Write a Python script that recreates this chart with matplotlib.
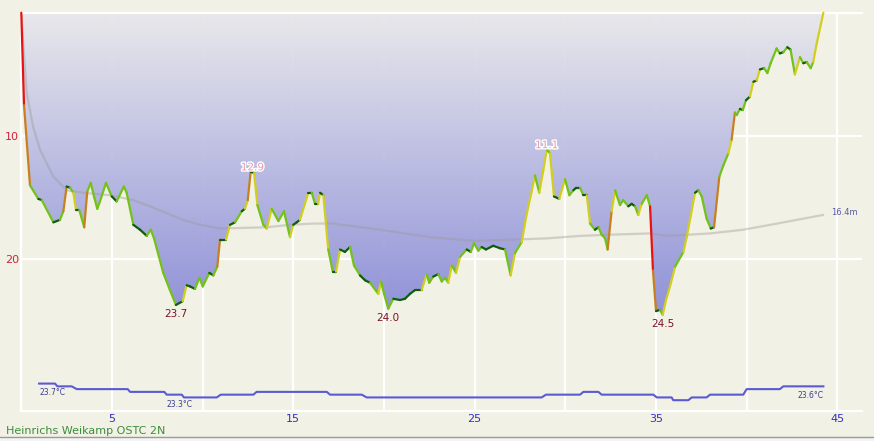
import numpy as np
import matplotlib.pyplot as plt
from matplotlib.collections import LineCollection
from matplotlib.patches import Polygon, Rectangle
from matplotlib.lines import Line2D
import matplotlib.patheffects as pe

# dive profile: time (min) and depth (m)
time_min = [0.00, 0.15, 0.48, 0.94, 1.13, 1.77, 2.13, 2.32, 2.50, 2.69,
            2.87, 3.02, 3.20, 3.47, 3.64, 3.83, 4.01, 4.19, 4.34, 4.67,
            4.99, 5.26, 5.66, 5.81, 6.18, 6.55, 6.92, 7.14, 7.32, 7.83,
            8.20, 8.53, 8.90, 9.12, 9.31, 9.58, 9.82, 10.01, 10.37, 10.59,
            10.81, 10.96, 11.29, 11.51, 11.79, 12.16, 12.34, 12.49, 12.65, 12.84,
            13.02, 13.35, 13.54, 13.81, 14.18, 14.49, 14.82, 15.00, 15.19, 15.37,
            15.83, 16.02, 16.20, 16.37, 16.48, 16.66, 16.93, 17.18, 17.36, 17.58,
            17.85, 18.13, 18.35, 18.68, 18.96, 19.23, 19.69, 19.84, 20.01, 20.24,
            20.52, 20.89, 21.16, 21.44, 21.71, 22.08, 22.36, 22.50, 22.72, 23.00,
            23.19, 23.37, 23.55, 23.74, 23.98, 24.20, 24.57, 24.79, 24.97, 25.21,
            25.39, 25.63, 26.03, 26.40, 26.68, 26.99, 27.23, 27.60, 27.88, 28.15,
            28.33, 28.57, 28.79, 28.98, 29.16, 29.38, 29.67, 29.99, 30.23, 30.45,
            30.60, 30.82, 31.00, 31.19, 31.37, 31.64, 31.83, 32.01, 32.20, 32.34,
            32.56, 32.75, 33.02, 33.20, 33.48, 33.67, 33.85, 34.03, 34.22, 34.50,
            34.68, 34.84, 35.01, 35.23, 35.38, 35.56, 35.78, 36.06, 36.52, 36.70,
            36.92, 37.16, 37.34, 37.53, 37.80, 38.03, 38.21, 38.50, 38.72, 39.00,
            39.18, 39.36, 39.46, 39.64, 39.79, 39.97, 40.19, 40.38, 40.56, 40.74,
            40.97, 41.15, 41.33, 41.66, 41.84, 42.03, 42.25, 42.43, 42.67, 42.95,
            43.13, 43.32, 43.54, 43.68, 43.87, 44.24]
depth_m = [0.0, 7.5, 14.0, 15.1, 15.2, 17.0, 16.8, 16.1, 14.1, 14.2,
           14.6, 16.0, 16.0, 17.4, 14.5, 13.8, 14.9, 15.9, 15.3, 13.8,
           14.9, 15.3, 14.1, 14.6, 17.2, 17.6, 18.1, 17.6, 18.3, 21.1,
           22.5, 23.7, 23.4, 22.1, 22.2, 22.4, 21.5, 22.2, 21.1, 21.3,
           20.6, 18.4, 18.4, 17.2, 17.0, 16.1, 15.9, 15.2, 12.9, 13.0,
           15.6, 17.2, 17.5, 15.9, 16.9, 16.1, 18.2, 17.2, 17.0, 16.8,
           14.6, 14.6, 15.5, 15.5, 14.6, 14.8, 19.2, 21.0, 21.0, 19.2,
           19.4, 19.0, 20.5, 21.3, 21.7, 21.9, 22.8, 21.8, 22.8, 24.0,
           23.2, 23.3, 23.2, 22.8, 22.5, 22.5, 21.2, 21.9, 21.4, 21.2,
           21.8, 21.5, 21.9, 20.5, 21.1, 19.8, 19.2, 19.4, 18.7, 19.3,
           19.0, 19.2, 18.9, 19.1, 19.2, 21.3, 19.5, 18.6, 16.3, 14.5,
           13.2, 14.6, 12.8, 11.1, 11.4, 14.9, 15.1, 13.5, 14.8, 14.4,
           14.2, 14.2, 14.8, 14.8, 17.1, 17.6, 17.4, 18.0, 18.3, 19.2,
           16.1, 14.4, 15.6, 15.2, 15.7, 15.5, 15.7, 16.4, 15.5, 14.8,
           15.7, 20.9, 24.2, 24.1, 24.5, 23.3, 22.2, 20.6, 19.4, 18.2,
           16.5, 14.6, 14.4, 14.9, 16.7, 17.5, 17.4, 13.3, 12.4, 11.4,
           10.3, 8.1, 8.3, 7.8, 7.9, 7.1, 6.8, 5.6, 5.5, 4.6,
           4.5, 4.9, 4.1, 2.9, 3.3, 3.2, 2.8, 3.0, 5.0, 3.6,
           4.1, 4.0, 4.5, 4.0, 2.5, 0.0]

# running mean depth
mean_time = [0.0, 0.15, 0.30, 0.48, 0.66, 1.03, 1.77, 2.50, 3.42, 4.89,
             6.18, 7.10, 8.92, 9.86, 10.96, 13.55, 14.82, 16.09, 17.19, 19.79,
             22.54, 24.91, 27.12, 28.99, 30.82, 32.47, 34.68, 35.62, 37.99, 39.81,
             41.69, 44.22]
mean_depth = [0.0, 3.4, 6.5, 7.9, 9.3, 11.1, 13.3, 14.4, 14.6, 14.8,
              15.2, 15.7, 16.8, 17.2, 17.5, 17.4, 17.2, 17.1, 17.1, 17.6,
              18.2, 18.5, 18.4, 18.3, 18.1, 18.0, 17.9, 18.1, 17.9, 17.6,
              17.1, 16.4]

# water temperature (deg C)
temp_time = [0.98, 1.86, 1.99, 2.78, 3.06, 5.87, 6.00, 7.89, 8.02, 8.85,
             8.97, 10.78, 11.00, 12.80, 12.98, 16.85, 17.03, 18.78, 19.05, 28.70,
             28.94, 30.82, 31.00, 31.83, 32.01, 34.86, 35.05, 35.87, 35.96, 36.79,
             36.98, 37.80, 37.99, 39.82, 40.01, 41.84, 42.03, 44.24]
temp_c = [23.7, 23.7, 23.6, 23.6, 23.5, 23.5, 23.4, 23.4, 23.3, 23.3,
          23.2, 23.2, 23.3, 23.3, 23.4, 23.4, 23.3, 23.3, 23.2, 23.2,
          23.3, 23.3, 23.4, 23.4, 23.3, 23.3, 23.2, 23.2, 23.1, 23.1,
          23.2, 23.2, 23.3, 23.3, 23.5, 23.5, 23.6, 23.6]

max_time = [8.53, 20.24, 35.38]
max_depth = [23.7, 24.0, 24.5]
min_time = [12.75, 28.98]
min_depth = [12.9, 11.1]
temp_label_time = [0.98, 8.02, 44.24]
temp_label_val = [23.7, 23.3, 23.6]

time_ticks = [0, 5, 10, 15, 20, 25, 30, 35, 40, 45]
time_labels = ['', '5', '', '15', '', '25', '', '35', '', '45']
depth_ticks = [0, 10, 20]
depth_labels = ['', '10', '20']

BG = '#f2f1e5'
DARK = '#0e5c10'
LIGHT = '#72c218'
YELLOW = '#d2cf1c'
ORANGE = '#c8801e'
RED = '#e81212'


def speed_color(v):
    # v in mm/s, positive = going deeper
    if v < -304:
        return RED
    if v < -152:
        return ORANGE
    if v < -76:
        return YELLOW
    if v < -25:
        return LIGHT
    if v < 25:
        return DARK
    if v < 152:
        return LIGHT
    if v < 304:
        return YELLOW
    if v < 507:
        return ORANGE
    return RED


xmax = 46.37
ymax = 32.3

fig = plt.figure(figsize=(8.74, 4.41), dpi=100, facecolor=BG)
ax = fig.add_axes([21.3 / 874, 30 / 441, (862 - 21.3) / 874, (411 - 12.7) / 441])
ax.set_facecolor(BG)

# gradient fill above the profile
top = np.array([232, 232, 236]) / 255
bot = np.array([136, 138, 216]) / 255
frac = np.clip(np.linspace(0, ymax, 300) / 24.5, 0, 1)
img = (top + (bot - top) * frac[:, None])[:, None, :]
im = ax.imshow(img, extent=[0, xmax, ymax, 0], aspect='auto', zorder=1, alpha=0.93)
poly = Polygon(np.column_stack([time_min, depth_m]), closed=True,
               facecolor='none', edgecolor='none')
ax.add_patch(poly)
im.set_clip_path(poly)

# mean depth
ax.plot(mean_time, mean_depth, color='#9a9a9a', alpha=0.4, lw=1.6, zorder=2)
ax.annotate('16.4m', (mean_time[-1], mean_depth[-1]), xytext=(6, 2),
            textcoords='offset points', ha='left', va='center',
            fontsize=6, color='#5a5aa8', zorder=5)

# profile coloured by vertical speed
t = np.array(time_min)
d = np.array(depth_m)
pts = np.column_stack([t, d]).reshape(-1, 1, 2)
segs = np.concatenate([pts[:-1], pts[1:]], axis=1)
speeds = np.diff(d) * 1000 / (np.diff(t) * 60)
cols = [speed_color(v) for v in speeds]
lc = LineCollection(segs, colors=cols, linewidths=1.6, zorder=4,
                    capstyle='round', joinstyle='round')
lc.set_clip_on(False)
ax.add_collection(lc)

for tt, dd in zip(max_time, max_depth):
    ax.annotate('%.1f' % dd, (tt, dd), xytext=(0, -3), textcoords='offset points',
                ha='center', va='top', fontsize=7.5, color='#7a1428', zorder=5)
for tt, dd in zip(min_time, min_depth):
    ax.annotate('%.1f' % dd, (tt, dd), xytext=(0, 1), textcoords='offset points',
                ha='center', va='baseline', fontsize=7.5, color='#e89aaa', zorder=5,
                path_effects=[pe.withStroke(linewidth=2, foreground='white')])

ax.set_xlim(0, xmax)
ax.set_ylim(ymax, 0)
ax.set_xticks(time_ticks)
ax.set_xticklabels(time_labels, color='#3030c8', fontsize=8)
ax.set_yticks(depth_ticks)
ax.set_yticklabels(depth_labels, color='#d0203e', fontsize=8)
ax.tick_params(length=0, pad=2)
ax.tick_params(axis='y', pad=1.5)
ax.grid(True, color='white', lw=1.6)
ax.set_axisbelow(True)
for s in ['top', 'left', 'bottom']:
    ax.spines[s].set_color('white')
    ax.spines[s].set_linewidth(1.6)
ax.spines['right'].set_visible(False)

# temperature on its own scale
ax2 = ax.twinx()
ax2.set_ylim(22.71, 37.09)
ax2.plot(temp_time, temp_c, color='#5a5ad4', lw=1.5)
for i, (tt, tv) in enumerate(zip(temp_label_time, temp_label_val)):
    ha = 'right' if i == len(temp_label_time) - 1 else 'left'
    ax2.annotate('%.1f\u00b0C' % tv, (tt, tv), xytext=(0, -3.5), textcoords='offset points',
                 ha=ha, va='top', fontsize=5.5, color='#3c3c90')
ax2.axis('off')
ax2.set_xlim(0, xmax)

# footer
fig.add_artist(Rectangle((0, 0), 1, 4 / 441, transform=fig.transFigure,
                         facecolor='#f4f4f4', edgecolor='none'))
fig.add_artist(Line2D([0, 1], [4.5 / 441, 4.5 / 441], transform=fig.transFigure,
                      color='#9a9a9a', lw=1))
fig.text(6 / 874, 10 / 441, 'Heinrichs Weikamp OSTC 2N', fontsize=8,
         color='#3c8c3c', ha='left', va='center')

fig.savefig('out.png', dpi=100, facecolor=BG)
